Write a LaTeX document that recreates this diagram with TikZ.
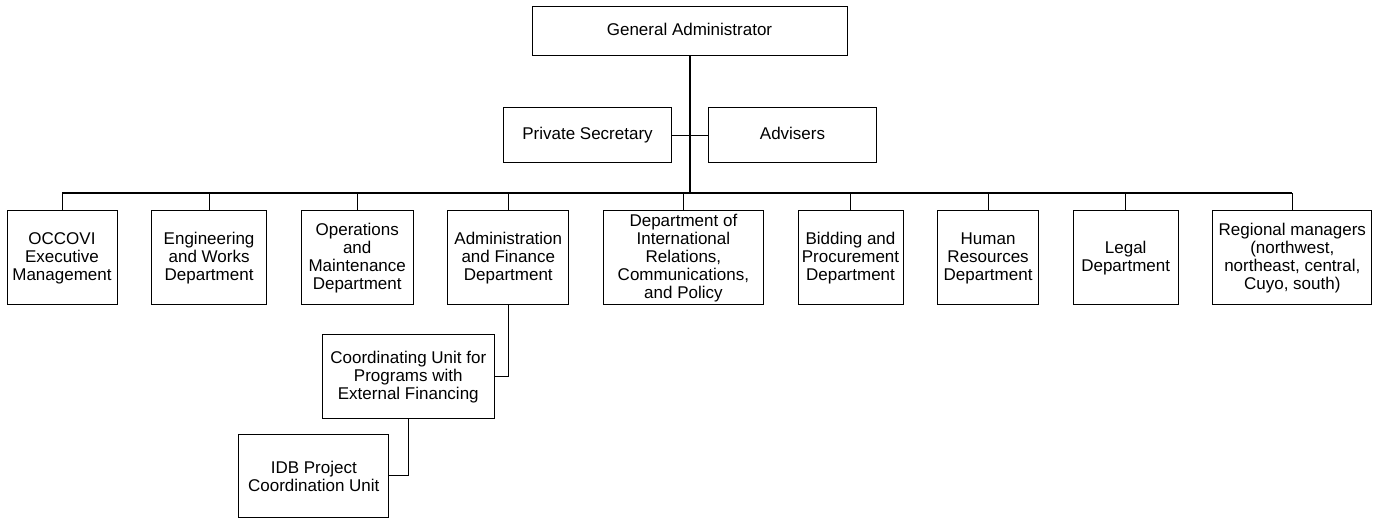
\documentclass[tikz,border=0pt]{standalone}
\usepackage{fontspec}
\setmainfont{Liberation Sans}
\usepackage{tikz}
\usetikzlibrary{positioning}

\begin{document}
\begin{tikzpicture}[x=1pt,y=1pt,node distance=33.6pt,line width=1pt,
                    org node/.style={rectangle,draw,align=center,inner sep=2pt,
                      minimum height=94pt,font=\fontsize{17}{18}\selectfont},
                    top node/.style={org node,minimum height=55pt,text height=12pt,text depth=4pt},
                    trunk/.style={line width=2pt},
                    bus/.style={line width=1.5pt}]

  \useasboundingbox (0,0) rectangle (1385,-518);

  \node[top node, minimum width=315pt, minimum height=49pt] at (689.5,-31.5) (genadmin) {General Administrator};
  \node[top node, minimum width=168pt] [below left = 51pt and 17.5pt of genadmin.south] (privsec) {Private Secretary};
  \node[top node, minimum width=168pt] [below right = 51pt and 18.5pt of genadmin.south] (advisers) {Advisers};
  \coordinate (bus) at (689.5,-193);

  \node[org node, minimum width=110pt] at (62,-258) (occovi) {OCCOVI\\Executive\\Management};
  \node[org node, minimum width=115pt] [right = of occovi] (engworks) {Engineering\\and Works\\Department};
  \node[org node, minimum width=112pt] [right = of engworks] (opsmaint) {Operations\\and\\Maintenance\\Department};
  \node[org node, minimum width=121pt] [right = of opsmaint] (adminfin) {Administration\\and Finance\\Department};
  \node[org node, minimum width=160pt] [right = of adminfin] (intlrel) {Department of\\International\\Relations,\\Communications,\\and Policy};
  \node[org node, minimum width=105pt] [right = of intlrel] (bidding) {Bidding and\\Procurement\\Department};
  \node[org node, minimum width=101pt] [right = of bidding] (humres) {Human\\Resources\\Department};
  \node[org node, minimum width=105pt] [right = of humres] (legal) {Legal\\Department};
  \node[org node, minimum width=159pt] [right = of legal] (regional) {Regional managers\\(northwest,\\northeast, central,\\Cuyo, south)};

  \node[org node, minimum width=172pt, minimum height=84pt] [below left = 29pt and 13.5pt of adminfin.south] (coordunit) {Coordinating Unit for\\Programs with\\External Financing};
  \node[org node, minimum width=150pt, minimum height=82pt] [below left = 15pt and 19pt of coordunit.south] (idbunit) {IDB Project\\Coordination Unit};

\draw[trunk] (genadmin) -- (bus);
\draw (privsec) -- (advisers);
\draw[bus] (occovi.north |- bus) -- (regional.north |- bus);
\foreach \dept in {occovi,engworks,opsmaint,adminfin,intlrel,bidding,humres,legal,regional}
  \draw (\dept.north) -- (\dept.north |- bus);
\draw (adminfin.south) |- (coordunit.east);
\draw (coordunit.south) |- (idbunit.east);

\end{tikzpicture}
\end{document}
